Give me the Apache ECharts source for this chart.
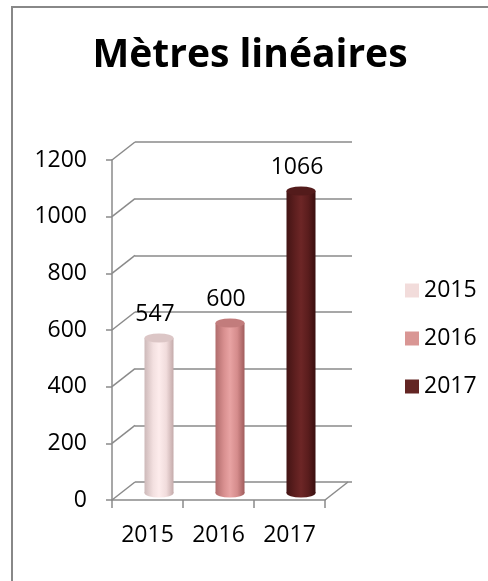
<!DOCTYPE html>
<html>
<head>
<meta charset="utf-8">
<script src="https://cdn.jsdelivr.net/npm/echarts@6/dist/echarts.min.js"></script>
<style>
html,body{margin:0;padding:0;background:#fff;}
#chart{width:488px;height:581px;}
</style>
</head>
<body>
<div id="chart"></div>
<script>
// ---- data ----
const titleText = 'Mètres linéaires';
const categories = ['2015', '2016', '2017'];
const seriesNames = ['2015', '2016', '2017'];
const values = [547, 600, 1066];
const yTicks = [0, 200, 400, 600, 800, 1000, 1200];

// ---- styles ----
const FONT = '"Open Sans", "Noto Sans", sans-serif';
const FS = 23;
const legendColors = ['#F2DCDB', '#D99694', '#632523'];
const bodyStops = [
  [['#cdb9b9', 0], ['#f3e0e0', 0.3], ['#fdecec', 0.5], ['#f1dcdc', 0.75], ['#c4aaaa', 1]],
  [['#b06c6c', 0], ['#d99090', 0.3], ['#e8a3a3', 0.5], ['#d58c8c', 0.75], ['#a05c5c', 1]],
  [['#431414', 0], ['#5e1f1f', 0.3], ['#6d2626', 0.5], ['#5a1d1d', 0.75], ['#3a0f0f', 1]]
];
const topColors = ['#dcc6c6', '#c27c7c', '#531b1b'];
const GRID_COLOR = '#8a8a8a';
const DX = 23, DY = -18;

function grad(stops) {
  return new echarts.graphic.LinearGradient(0, 0, 1, 0,
    stops.map(s => ({ offset: s[1], color: s[0] })));
}

const chart = echarts.init(document.getElementById('chart'));

const cylinderSeries = seriesNames.map((name, i) => ({
  name: name,
  type: 'custom',
  xAxisIndex: 0,
  yAxisIndex: 0,
  itemStyle: { color: legendColors[i] },
  data: [[i, values[i]]],
  encode: { x: 0, y: 1 },
  z: 10,
  renderItem: function (params, api) {
    const cat = api.value(0), v = api.value(1);
    const top = api.coord([cat, v]);
    const base = api.coord([cat, 0]);
    const cx = top[0] + 11.5;
    const hw = 14.5, ry = 4.5;
    const ty = top[1] - 7, by = base[1] - 7;
    const g = grad(bodyStops[i]);
    return {
      type: 'group',
      children: [
        { type: 'circle', shape: { cx: 0, cy: 0, r: hw }, x: cx, y: by, scaleY: ry / hw, style: { fill: g } },
        { type: 'rect', shape: { x: cx - hw, y: ty, width: hw * 2, height: by - ty }, style: { fill: g } },
        { type: 'circle', shape: { cx: 0, cy: 0, r: hw }, x: cx, y: ty, scaleY: ry / hw, style: { fill: topColors[i] } },
        { type: 'text', style: { text: String(v), x: cx - 4, y: ty - 24, align: 'center', verticalAlign: 'middle', font: FS + 'px ' + FONT, fill: '#000' } }
      ]
    };
  }
}));

const diagonalSeries = {
  type: 'custom',
  xAxisIndex: 0,
  yAxisIndex: 0,
  silent: true,
  z: 1,
  data: yTicks.map(v => [0, v]),
  encode: { x: 0, y: 1 },
  renderItem: function (params, api) {
    const v = api.value(1);
    const p = api.coord([0, v]);
    const cs = params.coordSys;
    const children = [{
      type: 'line',
      shape: { x1: cs.x, y1: p[1], x2: cs.x + DX, y2: p[1] + DY },
      style: { stroke: GRID_COLOR, lineWidth: 1.5 }
    }];
    if (v === 0) {
      children.push({
        type: 'line',
        shape: { x1: cs.x + cs.width, y1: p[1], x2: cs.x + cs.width + DX, y2: p[1] + DY },
        style: { stroke: GRID_COLOR, lineWidth: 1.5 }
      });
    }
    return { type: 'group', children: children };
  }
};

const option = {
  backgroundColor: '#fff',
  animation: false,
  title: {
    text: titleText,
    left: 245,
    top: 31,
    textAlign: 'center',
    textStyle: { fontFamily: FONT, fontWeight: 'bold', fontSize: 39, color: '#000' }
  },
  legend: {
    orient: 'vertical',
    left: 400,
    top: 274,
    icon: 'rect',
    itemWidth: 14,
    itemHeight: 14,
    itemGap: 25,
    data: seriesNames,
    selectedMode: false,
    textStyle: { fontFamily: FONT, fontSize: FS, color: '#000', padding: [0, 0, 0, 0] }
  },
  graphic: [{
    type: 'rect',
    shape: { x: 12, y: 7, width: 700, height: 800 },
    style: { fill: 'none', stroke: '#888', lineWidth: 2 },
    silent: true
  }],
  grid: [
    { left: 112, right: 163, top: 160, bottom: 81 },
    { left: 135, right: 136, top: 142, bottom: 99 }
  ],
  xAxis: [
    {
      gridIndex: 0, type: 'category', data: categories,
      axisLine: { show: true, lineStyle: { color: GRID_COLOR, width: 1.5 } },
      axisTick: { show: true, length: 8, interval: 0, alignWithLabel: false, lineStyle: { color: GRID_COLOR, width: 1.5 } },
      axisLabel: { fontFamily: FONT, fontSize: FS, color: '#000', margin: 24 },
      splitLine: { show: false }
    },
    {
      gridIndex: 1, type: 'category', data: categories, show: false
    }
  ],
  yAxis: [
    {
      gridIndex: 0, type: 'value', min: 0, max: 1200, interval: 200,
      axisLine: { show: true, lineStyle: { color: GRID_COLOR, width: 1.5 } },
      axisTick: { show: true, length: 6, lineStyle: { color: GRID_COLOR, width: 1.5 } },
      axisLabel: { fontFamily: FONT, fontSize: FS, color: '#000', margin: 25, formatter: v => String(v) },
      splitLine: { show: false }
    },
    {
      gridIndex: 1, type: 'value', min: 0, max: 1200, interval: 200,
      axisLine: { show: false }, axisTick: { show: false }, axisLabel: { show: false },
      splitLine: { show: true, lineStyle: { color: GRID_COLOR, width: 1.5 } }
    }
  ],
  series: [diagonalSeries].concat(cylinderSeries)
};
chart.setOption(option);
</script>
</body>
</html>
